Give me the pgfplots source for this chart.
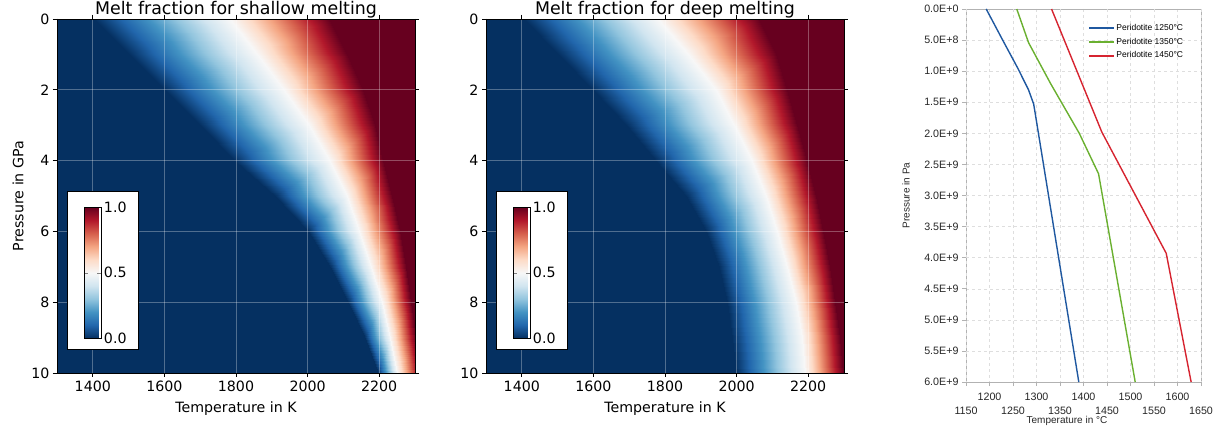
\documentclass[border=0pt]{standalone}
\usepackage{fontspec}
\setmainfont{DejaVu Sans}
\newfontfamily\lib{Liberation Sans}
\usepackage{pgfplots}
\pgfplotsset{compat=1.18}
\pgfplotsset{/pgf/number format/1000 sep={}, /pgf/number format/assume math mode=true}
\pgfplotsset{colormap={RdBuR}{rgb255=(5,48,97) rgb255=(33,102,172) rgb255=(67,147,195) rgb255=(146,197,222) rgb255=(209,229,240) rgb255=(247,247,247) rgb255=(253,219,199) rgb255=(244,165,130) rgb255=(214,96,77) rgb255=(178,24,43) rgb255=(103,0,31)}}
\definecolor{lblue}{RGB}{31,88,160}
\definecolor{lgreen}{RGB}{106,176,48}
\definecolor{lred}{RGB}{214,36,48}
\newcommand{\tf}{\fontsize{14.2}{17}\selectfont}
\newcommand{\lf}{\lib\fontsize{10.7}{12.5}\selectfont}
\pgfplotsset{legline/.style={legend image code/.code={\draw[##1, line width=2pt] (0pt,0pt) -- (25pt,0pt);}}}

\pgfplotstableread{
T P f
1300 0 0
1403 0 0
1784 0 0.5
2059 0 1
2400 0 1
1300 1 0
1500 1 0
1859 1 0.5
2110 1 1
2400 1 1
1300 2 0
1603 2 0
1933 2 0.5
2156 2 1
2400 2 1
1300 3 0
1700 3 0
2003 3 0.5
2189 3 1
2400 3 1
1300 4 0
1798 4 0
2063 4 0.5
2210 4 1
2400 4 1
1300 5 0
1910 5 0
2110 5 0.5
2236 5 1
2400 5 1
1300 6 0
2000 6 0
2143 6 0.5
2258 6 1
2400 6 1
1300 7 0
2062 7 0
2176 7 0.5
2276 7 1
2400 7 1
1300 8 0
2113 8 0
2207 8 0.5
2290 8 1
2400 8 1
1300 9 0
2160 9 0
2230 9 0.5
2302 9 1
2400 9 1
1300 10 0
2197 10 0
2250 10 0.5
2316 10 1
2400 10 1
}\shallow

\pgfplotstableread{
T P f
1300 0 0
1407 0 0
1780 0 0.5
2063 0 1
2400 0 1
1300 1 0
1500 1 0
1863 1 0.5
2110 1 1
2400 1 1
1300 2 0
1598 2 0
1942 2 0.5
2142 2 1
2400 2 1
1300 3 0
1691 3 0
1993 3 0.5
2170 3 1
2400 3 1
1300 4 0
1775 4 0
2042 4 0.5
2197 4 1
2400 4 1
1300 5 0
1860 5 0
2081 5 0.5
2221 5 1
2400 5 1
1300 6 0
1914 6 0
2113 6 0.5
2242 6 1
2400 6 1
1300 7 0
1950 7 0
2141 7 0.5
2260 7 1
2400 7 1
1300 8 0
1972 8 0
2165 8 0.5
2275 8 1
2400 8 1
1300 9 0
1987 9 0
2182 9 0.5
2288 9 1
2400 9 1
1300 10 0
1997 10 0
2192 10 0.5
2298 10 1
2400 10 1
}\deep

\pgfplotsset{heat/.style={
  view={0}{90}, scale only axis, width=358pt, height=354pt,
  xmin=1300, xmax=2300, ymin=0, ymax=10, zmin=0, zmax=1, y dir=reverse,
  xtick={1400,1600,1800,2000,2200}, ytick={0,2,4,6,8,10}, ztick=\empty,
  tick align=outside, major tick length=4pt, tick pos=both,
  tick style={black, line width=0.8pt},
  axis line style={line width=0.9pt},
  tick label style={font=\tf},
  label style={font=\tf},
  every axis title/.style={font=\fontsize{17.4}{20}\selectfont, at={(axis description cs:0.5,1)}, anchor=base, yshift=4pt},
  xlabel style={at={(axis description cs:0.5,0)}, anchor=center, yshift=-36pt},
  colormap name=RdBuR, point meta min=0, point meta max=1,
  colorbar,
  colorbar style={at={(parent axis.south west)}, anchor=south west, xshift=18.5pt, yshift=34.7pt,
    width=17.4pt, height=131pt, scale only axis,
    ytick={0,0.5,1}, yticklabels={0.0,0.5,1.0},
    tick align=inside, major tick length=4pt, tick style={black!50},
    yticklabel style={font=\tf, xshift=-1pt}, axis line style={line width=0.8pt}},
}}
\newcommand{\gridbox}{%
  \pgfplotsinvokeforeach{1400,1600,1800,2000,2200}{\draw[white, opacity=0.3, line width=0.8pt] (axis cs:##1,0,1) -- (axis cs:##1,10,1);}
  \pgfplotsinvokeforeach{2,4,6,8}{\draw[white, opacity=0.3, line width=0.8pt] (axis cs:1300,##1,1) -- (axis cs:2300,##1,1);}
  \draw[fill=white, draw=black, line width=1pt] (axis cs:1330,4.86,1) rectangle (axis cs:1529,9.35,1);
}

\begin{document}
\begin{tikzpicture}
\useasboundingbox (0,0) rectangle (1225pt,427pt);

\begin{axis}[heat, at={(57pt,54pt)}, anchor=south west,
  title={Melt fraction for shallow melting},
  xlabel={Temperature in K}, ylabel={Pressure in GPa},
  ylabel style={at={(axis description cs:-0.109,0.5)}, anchor=center}]
\addplot3[surf, shader=interp, mesh/cols=5, point meta=\thisrow{f}] table {\shallow};
\gridbox
\end{axis}

\begin{axis}[heat, at={(486pt,54pt)}, anchor=south west,
  title={Melt fraction for deep melting},
  xlabel={Temperature in K}]
\addplot3[surf, shader=interp, mesh/cols=5, point meta=\thisrow{f}] table {\deep};
\gridbox
\end{axis}

\begin{axis}[at={(966pt,45pt)}, anchor=south west, scale only axis, width=235pt, height=373pt,
  xmin=1150, xmax=1650, ymin=0, ymax=6e9, y dir=reverse,
  axis line style={draw=black!30, line width=0.8pt},
  xtick={1200,1300,1400,1500,1600}, xticklabels={1200,1300,1400,1500,1600},
  extra x ticks={1150,1250,1350,1450,1550,1650},
  extra x tick labels={1150,1250,1350,1450,1550,1650},
  xticklabel style={yshift=-3pt},
  extra x tick style={grid=major, xticklabel style={yshift=-14pt}},
  ytick={0,5e8,1e9,1.5e9,2e9,2.5e9,3e9,3.5e9,4e9,4.5e9,5e9,5.5e9,6e9},
  yticklabels={0.0E+0,5.0E+8,1.0E+9,1.5E+9,2.0E+9,2.5E+9,3.0E+9,3.5E+9,4.0E+9,4.5E+9,5.0E+9,5.5E+9,6.0E+9},
  scaled y ticks=false, scaled x ticks=false,
  tick align=outside, tick pos=left, major tick length=4pt, tick style={black!30, line width=0.6pt},
  grid=major, grid style={dashed, black!13, line width=0.5pt},
  tick label style={font=\lf, text=black!85},
  xlabel={Temperature in °C}, ylabel={Pressure in Pa},
  label style={font=\lib\fontsize{10}{12}\selectfont, text=black!85},
  xlabel style={at={(axis description cs:0.5,0)}, anchor=center, xshift=-16.5pt, yshift=-38.5pt},
  ylabel style={at={(axis description cs:-0.255,0.5)}, anchor=center},
  legend style={at={(axis description cs:0.52,0.962)}, anchor=north west, draw=none, fill=none,
    font=\lib\fontsize{8.5}{10}\selectfont, inner sep=0pt, row sep=4pt, nodes={inner sep=1pt}},
  legend cell align=left, legline,
  every axis plot/.append style={line width=1.4pt}]
\addplot[lblue] table {
1193 0
1228 5e8
1260 9.5e8
1283 1.3e9
1294 1.53e9
1390 6e9
};
\addlegendentry{Peridotite 1250°C}
\addplot[lgreen] table {
1258 0
1283 5.4e8
1330 1.2e9
1391 2.0e9
1432 2.65e9
1510 6e9
};
\addlegendentry{Peridotite 1350°C}
\addplot[lred] table {
1332 0
1439 1.98e9
1576 3.93e9
1629 6e9
};
\addlegendentry{Peridotite 1450°C}
\end{axis}
\end{tikzpicture}
\end{document}
